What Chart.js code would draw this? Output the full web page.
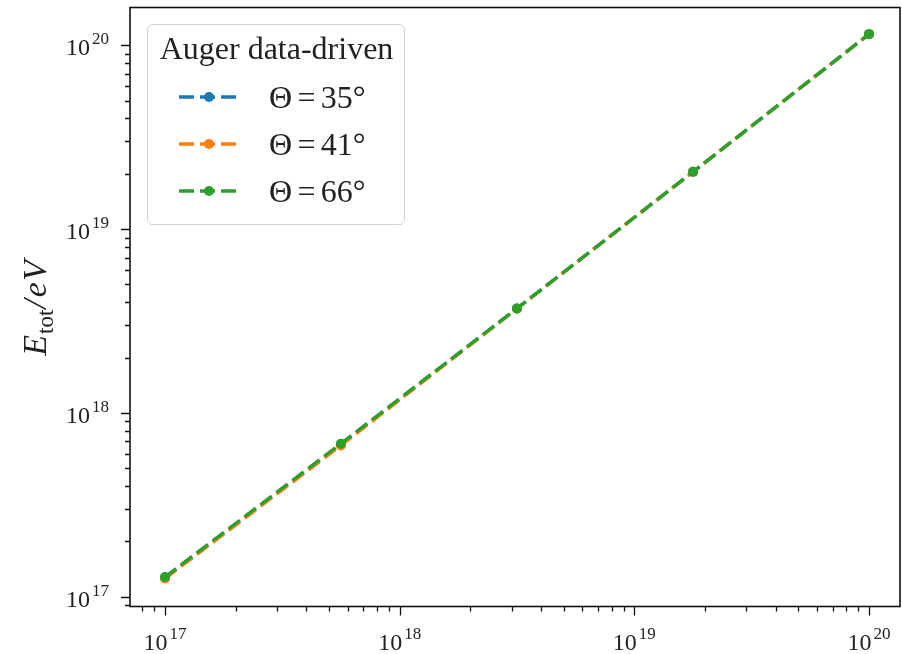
<!DOCTYPE html>
<html>
<head>
<meta charset="utf-8">
<script src="https://cdn.jsdelivr.net/npm/chart.js@4"></script>
<style>
  html, body { margin: 0; padding: 0; background: #ffffff; }
  #wrap { width: 902px; height: 654px; }
</style>
</head>
<body>
<div id="wrap"><canvas id="chart" width="902" height="654"></canvas></div>
<script>
// Primary energy (eV) at which each reconstruction was evaluated
const energyValues = [1e17, 5.62e17, 3.16e18, 1.78e19, 1e20];

// Total reconstructed energy E_tot (eV) per zenith angle
const theta35 = [1.27e17, 6.75e17, 3.70e18, 2.05e19, 1.15e20];
const theta41 = [1.255e17, 6.65e17, 3.69e18, 2.05e19, 1.15e20];
const theta66 = [1.28e17, 6.80e17, 3.70e18, 2.05e19, 1.15e20];

const seriesLabels = ['Θ\u2006=\u200635°', 'Θ\u2006=\u200641°', 'Θ\u2006=\u200666°'];
const seriesColors = ['#1f77b4', '#ff7f0e', '#2ca02c'];
const legendTitle = 'Auger data-driven';

// Decade exponents that carry a "10^n" label
const xTickExponents = [17, 18, 19, 20];
const yTickExponents = [17, 18, 19, 20];

// Axis ranges (log scale)
const xRange = [Math.pow(10, 16.851), Math.pow(10, 20.132)];
const yRange = [Math.pow(10, 16.9467), Math.pow(10, 20.2057)];

const SERIF = '"Liberation Serif", "DejaVu Serif", serif';

function pairs(xs, ys) {
  return xs.map((x, i) => ({ x: x, y: ys[i] }));
}

function makeDataset(label, values, color, order) {
  return {
    label: label,
    data: pairs(energyValues, values),
    borderColor: color,
    backgroundColor: color,
    borderWidth: 3.4,
    borderDash: [14, 6],
    borderCapStyle: 'butt',
    pointRadius: 5,
    pointHoverRadius: 5,
    pointBorderWidth: 0,
    pointBackgroundColor: color,
    tension: 0,
    fill: false,
    order: order
  };
}

// "10" with a raised exponent
function drawPower(ctx, x, baseY, exp, align) {
  const baseFont = '24px ' + SERIF;
  const supFont = '17px ' + SERIF;
  ctx.font = baseFont;
  const wb = ctx.measureText('10').width;
  ctx.font = supFont;
  const ws = ctx.measureText(String(exp)).width;
  const gap = 2;
  const total = wb + gap + ws;
  let start = align === 'right' ? x - total : x - total / 2;
  ctx.textAlign = 'left';
  ctx.textBaseline = 'alphabetic';
  ctx.fillStyle = '#222';
  ctx.font = baseFont;
  ctx.fillText('10', start, baseY);
  ctx.font = supFont;
  ctx.fillText(String(exp), start + wb + gap, baseY - 11);
}

function logTicks(min, max) {
  const out = [];
  const lo = Math.floor(Math.log10(min));
  const hi = Math.ceil(Math.log10(max));
  for (let e = lo; e <= hi; e++) {
    for (let m = 1; m <= 9; m++) {
      const v = m * Math.pow(10, e);
      if (v >= min && v <= max) out.push({ v: v, major: m === 1 });
    }
  }
  return out;
}

const axesPlugin = {
  id: 'logAxesFrame',
  afterDraw(chart) {
    const ctx = chart.ctx;
    const a = chart.chartArea;
    const xs = chart.scales.x;
    const ys = chart.scales.y;
    ctx.save();

    // frame
    ctx.strokeStyle = '#111';
    ctx.lineWidth = 1.6;
    ctx.strokeRect(a.left, a.top, a.right - a.left, a.bottom - a.top);

    // tick marks
    ctx.lineWidth = 1.3;
    ctx.beginPath();
    logTicks(xRange[0], xRange[1]).forEach(t => {
      const px = Math.round(xs.getPixelForValue(t.v)) + 0.5;
      ctx.moveTo(px, a.bottom);
      ctx.lineTo(px, a.bottom + (t.major ? 9 : 5));
    });
    logTicks(yRange[0], yRange[1]).forEach(t => {
      const py = Math.round(ys.getPixelForValue(t.v)) + 0.5;
      ctx.moveTo(a.left, py);
      ctx.lineTo(a.left - (t.major ? 9 : 5), py);
    });
    ctx.stroke();

    // tick labels
    xTickExponents.forEach(e => {
      drawPower(ctx, xs.getPixelForValue(Math.pow(10, e)), a.bottom + 43.5, e, 'center');
    });
    yTickExponents.forEach(e => {
      drawPower(ctx, a.left - 21, ys.getPixelForValue(Math.pow(10, e)) + 10, e, 'right');
    });

    // y-axis title: E_tot / eV
    ctx.save();
    ctx.translate(46, (a.top + a.bottom) / 2 + 1);
    ctx.rotate(-Math.PI / 2);
    ctx.fillStyle = '#222';
    ctx.textBaseline = 'alphabetic';
    ctx.textAlign = 'left';
    const big = 'italic 34px ' + SERIF;
    const sub = '23px ' + SERIF;
    const parts = [
      { t: 'E', f: big, dy: 0, pad: 1 },
      { t: 'tot', f: sub, dy: 7, pad: 1 },
      { t: '/', f: big, dy: 0, pad: 2 },
      { t: 'e', f: big, dy: 0, pad: 1 },
      { t: 'V', f: big, dy: 0, pad: 0 }
    ];
    let total = 0;
    parts.forEach(p => { ctx.font = p.f; p.w = ctx.measureText(p.t).width; total += p.w + p.pad; });
    let cx = -total / 2;
    parts.forEach(p => {
      ctx.font = p.f;
      ctx.fillText(p.t, cx, p.dy);
      cx += p.w + p.pad;
    });
    ctx.restore();

    // legend
    const L = { x: 147, y: 24, w: 257, h: 200, r: 5 };
    ctx.beginPath();
    ctx.roundRect(L.x + 0.5, L.y + 0.5, L.w, L.h, L.r);
    ctx.fillStyle = 'rgba(255,255,255,0.8)';
    ctx.fill();
    ctx.strokeStyle = '#d0d0d0';
    ctx.lineWidth = 1;
    ctx.stroke();

    ctx.fillStyle = '#222';
    ctx.font = '32px ' + SERIF;
    ctx.textAlign = 'center';
    ctx.textBaseline = 'alphabetic';
    ctx.fillText(legendTitle, L.x + L.w / 2 + 1, 59);

    const rowY = [97, 144, 191];
    chart.data.datasets.forEach((ds, i) => {
      const y = rowY[i];
      ctx.strokeStyle = ds.borderColor;
      ctx.lineWidth = ds.borderWidth;
      ctx.setLineDash([15, 6]);
      ctx.lineCap = 'butt';
      ctx.beginPath();
      ctx.moveTo(179, y);
      ctx.lineTo(237, y);
      ctx.stroke();
      ctx.setLineDash([]);
      ctx.beginPath();
      ctx.arc(209, y, 5, 0, Math.PI * 2);
      ctx.fillStyle = ds.borderColor;
      ctx.fill();
      ctx.fillStyle = '#222';
      ctx.font = '32px ' + SERIF;
      ctx.textAlign = 'left';
      ctx.fillText(ds.label, 269, y + 11);
    });

    ctx.restore();
  }
};

new Chart(document.getElementById('chart'), {
  type: 'line',
  data: {
    datasets: [
      makeDataset(seriesLabels[0], theta35, seriesColors[0], 2),
      makeDataset(seriesLabels[1], theta41, seriesColors[1], 1),
      makeDataset(seriesLabels[2], theta66, seriesColors[2], 0)
    ]
  },
  options: {
    responsive: false,
    animation: false,
    devicePixelRatio: 1,
    layout: { autoPadding: false, padding: { left: 130, top: 7.5, right: 2, bottom: 47.5 } },
    plugins: {
      legend: { display: false },
      tooltip: { enabled: false },
      title: { display: false }
    },
    scales: {
      x: { type: 'logarithmic', min: xRange[0], max: xRange[1], display: false },
      y: { type: 'logarithmic', min: yRange[0], max: yRange[1], display: false }
    }
  },
  plugins: [axesPlugin]
});
</script>
</body>
</html>
